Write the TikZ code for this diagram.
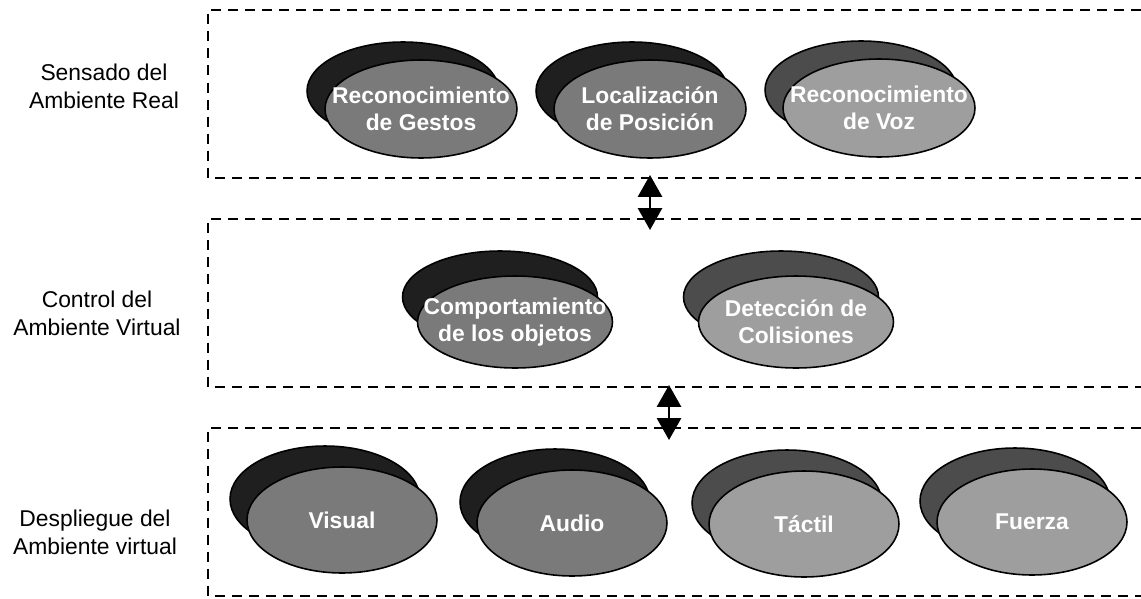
\documentclass[tikz,border=0pt]{standalone}
\usepackage{fontspec}
\setmainfont{Liberation Sans}
\usetikzlibrary{shapes.geometric,arrows.meta}
\begin{document}
\begin{tikzpicture}[x=0.02cm,y=-0.02cm,
  zone/.style={line width=1.2pt,dash pattern=on 5.7pt off 4pt},
  lbl/.style={align=center,font=\fontsize{13}{16}\selectfont,inner sep=0},
  ebase/.style={ellipse,draw=black,line width=0.9pt,inner sep=0},
  etext/.style={text=white,align=center,inner sep=0,font=\fontsize{13}{15.4}\selectfont\bfseries},
  backd/.style={ebase,fill=black!88},
  frontd/.style={ebase,fill=black!52},
  backl/.style={ebase,fill=black!70},
  frontl/.style={ebase,fill=black!38},
  r1/.style={minimum width=3.84cm,minimum height=1.96cm},
  r2/.style={minimum width=3.9cm,minimum height=1.84cm},
  r3/.style={minimum width=3.8cm,minimum height=2.12cm},
  dbl/.style={line width=1.6pt,{Triangle[width=13.7pt,length=12.5pt]}-{Triangle[width=13.7pt,length=12.5pt]}}
]
\useasboundingbox (0,0) rectangle (1141,598);

% zones
\coordinate (z1a) at (1141,10);  \coordinate (z1b) at (208,10);
\coordinate (z1c) at (208,178);  \coordinate (z1d) at (1141,178);
\coordinate (z2a) at (1141,219); \coordinate (z2b) at (208,219);
\coordinate (z2c) at (208,387);  \coordinate (z2d) at (1141,387);
\coordinate (z3a) at (1141,428); \coordinate (z3b) at (208,428);
\coordinate (z3c) at (208,596);  \coordinate (z3d) at (1141,596);
\draw[zone] (z1a) -- (z1b) -- (z1c) -- (z1d);
\draw[zone] (z2a) -- (z2b) -- (z2c) -- (z2d);
\draw[zone] (z3a) -- (z3b) -- (z3c) -- (z3d);

% side labels
\node[lbl] (l1) at (104,86) {Sensado del\\Ambiente Real};
\node[lbl] (l2) at (97,313) {Control del\\Ambiente Virtual};
\node[lbl] (l3) at (95,532) {Despliegue del\\Ambiente virtual};

% row 1
\node[backd,r1] (e1b) at (403,91) {};
\node[frontd,r1,label={[etext,name=t1]center:Reconocimiento\\de Gestos}] (e1) at (421,109) {};
\node[backd,r1] (e2b) at (632,91) {};
\node[frontd,r1,label={[etext,name=t2]center:Localización\\de Posición}] (e2) at (650,109) {};
\node[backl,r1] (e3b) at (861,90) {};
\node[frontl,r1,label={[etext,name=t3]center:Reconocimiento\\de Voz}] (e3) at (879,108) {};

% row 2
\node[backd,r2] (e4b) at (500,297) {};
\node[frontd,r2,label={[etext,name=t4]center:Comportamiento\\de los objetos}] (e4) at (515,322) {};
\node[backl,r2] (e5b) at (781,297) {};
\node[frontl,r2,label={[etext,name=t5]center:Detección de\\Colisiones}] (e5) at (796,322) {};

% row 3
\node[backd,r3] (e6b) at (325,499) {};
\node[frontd,r3,label={[etext,name=t6]center:Visual}] (e6) at (342,520) {};
\node[backd,r3] (e7b) at (555,502) {};
\node[frontd,r3,label={[etext,name=t7]center:Audio}] (e7) at (572,523) {};
\node[backl,r3] (e8b) at (787,503) {};
\node[frontl,r3,label={[etext,name=t8]center:Táctil}] (e8) at (804,524) {};
\node[backl,r3] (e9b) at (1015,501) {};
\node[frontl,r3,label={[etext,name=t9]center:Fuerza}] (e9) at (1032,522) {};

% arrows between zones
\coordinate (a1t) at (650,175); \coordinate (a1b) at (650,230);
\coordinate (a2t) at (669,385); \coordinate (a2b) at (669,440);
\draw[dbl] (a1t) -- (a1b);
\draw[dbl] (a2t) -- (a2b);
\end{tikzpicture}
\end{document}
